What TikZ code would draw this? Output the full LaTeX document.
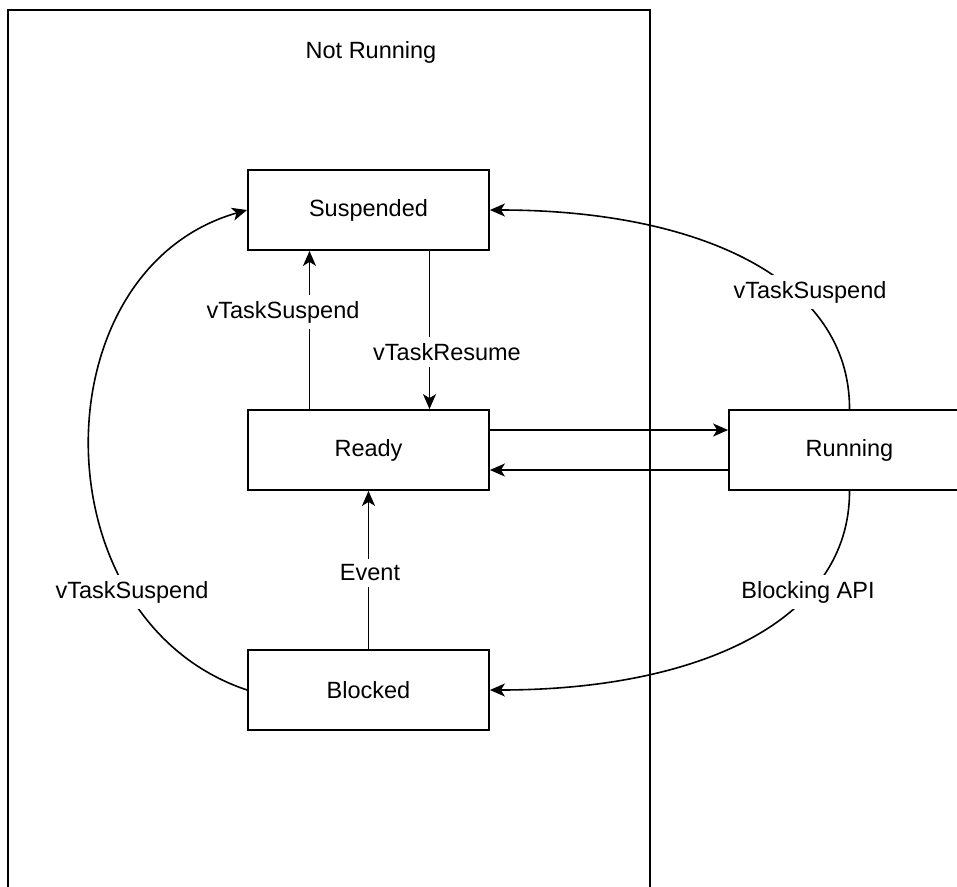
\documentclass[tikz,border=0pt]{standalone}
\usepackage{fontspec}
\setmainfont{Liberation Sans}
\usetikzlibrary{arrows.meta}
\begin{document}
\begin{tikzpicture}[x=1pt,y=-1pt,
  state/.style={draw,line width=1.8pt,minimum width=241pt,minimum height=80pt,inner sep=0pt,font=\fontsize{23.5}{28}\selectfont},
  arr/.style={line width=1.6pt,-{Stealth[length=15pt,width=13pt,inset=4pt]}},
  conn/.style={line width=1.6pt},
  lbl/.style={fill=white,inner xsep=2pt,inner ysep=6pt,font=\fontsize{23.5}{28}\selectfont}]
  % page frame
  \useasboundingbox (0,0) rectangle (957,886);
  \fill[white] (0,0) rectangle (957,886);
  \clip (0,0) rectangle (957,886);

  % the "Not Running" region, open at the bottom
  \draw[line width=1.8pt] (8,10) rectangle (650,960);
  \node[font=\fontsize{23.5}{28}\selectfont] (region) at (371,52) {Not Running};

  % task states
  \node[state] (suspended) at (368.5,210) {Suspended};
  \node[state] (ready)     at (368.5,450) {Ready};
  \node[state] (blocked)   at (368.5,690) {Blocked};
  \node[state] (running)   at (849.5,450) {Running};

  % straight transitions
  \draw[arr] ([yshift=20pt]ready.east) -- ([yshift=20pt]running.west);
  \draw[arr] ([yshift=-20pt]running.west) -- ([yshift=-20pt]ready.east);
  \draw[arr] ([xshift=-59pt]ready.north) -- ([xshift=-59pt]suspended.south);
  \draw[arr] ([xshift=61pt]suspended.south) -- ([xshift=61pt]ready.north);
  \draw[arr] (blocked.north) -- (ready.south);

  % curved transitions
  \draw[arr] (running.north) .. controls (850,280) and (700,210) .. (suspended.east);
  \draw[arr] (running.south) .. controls (850,620) and (700,690) .. (blocked.east);
  \draw[arr] (blocked.west) .. controls (37,620) and (37,270) .. (suspended.west);

  % transition labels
  \node[lbl] (l1) at (283,312) {vTaskSuspend};
  \node[lbl] (l2) at (447,352) {vTaskResume};
  \node[lbl] (l3) at (370,573) {Event};
  \node[lbl] (l4) at (810,292) {vTaskSuspend};
  \node[lbl] (l5) at (808,592) {Blocking API};
  \node[lbl] (l6) at (132,592) {vTaskSuspend};
\end{tikzpicture}
\end{document}
